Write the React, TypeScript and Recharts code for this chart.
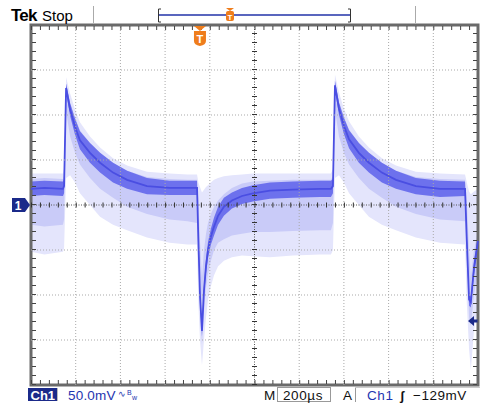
import React from 'react';
import {
  ComposedChart,
  Area,
  Line,
  XAxis,
  YAxis,
  ReferenceLine,
  ReferenceDot,
  ReferenceArea,
} from 'recharts';

const W = 480;
const H = 405;
const MARGIN = { top: 25, right: 2, bottom: 20, left: 31 };
const FONT = '"Liberation Sans", Arial, Helvetica, sans-serif';

// time (µs) at 200 µs/div, 10 divisions
const timeUs = [
  0, 60, 143, 148, 157, 175, 197, 219, 264, 309, 367, 430, 519, 620, 700, 743,
  749, 756, 765, 774, 783, 792, 805, 819, 837, 863, 899, 944, 993, 1069, 1172,
  1293, 1342, 1351, 1360, 1378, 1400, 1423, 1467, 1512, 1570, 1633, 1722, 1830,
  1942, 1950, 1960, 1968, 1982, 2000,
];
// dense trace core (mV) at 50 mV/div
const coreMv = [
  18, 19, 18, 21, 130, 106, 87, 72, 58, 47, 36, 28, 21, 19, 19, 19,
  -40, -100, -140, -95, -68, -50, -35, -24, -12, -2, 5, 10, 13, 16, 17,
  18, 18, 21, 133, 107, 88, 73, 58, 47, 36, 28, 21, 18,
  18, -40, -105, -108, -70, -40,
];
// half thickness of the dense band (mV)
const bandHalf = [
  8, 8, 8, 8, 5, 7, 9, 10, 11, 11, 11, 10, 9, 8, 8, 8,
  8, 7, 6, 7, 8, 9, 9, 10, 10, 10, 9, 9, 9, 9, 9,
  9, 9, 8, 5, 7, 9, 10, 11, 11, 11, 10, 9, 9,
  8, 8, 7, 6, 8, 8,
];
// medium persistence band (mV)
const midLo = [
  -22, -24, -22, -16, 104, 76, 58, 45, 30, 18, 8, -2, -10, -16, -18, -20,
  -65, -120, -155, -118, -92, -76, -62, -50, -42, -38, -34, -32, -30, -30, -29,
  -28, -28, -20, 106, 76, 58, 45, 30, 18, 8, -2, -10, -16,
  -18, -65, -125, -135, -100, -72,
];
const midHi = [
  29, 30, 29, 33, 135, 114, 97, 83, 69, 58, 47, 38, 31, 29, 28, 28,
  5, -40, -80, -50, -32, -20, -10, -2, 5, 12, 19, 24, 26, 27, 28,
  28, 28, 32, 138, 115, 98, 84, 69, 58, 47, 38, 31, 29,
  28, 5, -50, -80, -50, -28,
];
// faint outer persistence envelope (mV)
const outerLo = [
  -52, -55, -52, -48, 30, 33, 25, 13, 0, -13, -22, -28, -36, -42, -44, -44,
  -110, -150, -178, -150, -125, -105, -90, -78, -68, -62, -58, -56, -57, -58, -56,
  -55, -55, -50, 30, 33, 25, 13, 0, -13, -22, -28, -36, -42,
  -44, -110, -160, -183, -140, -110,
];
const outerHi = [
  35, 35, 35, 40, 142, 124, 106, 92, 76, 64, 52, 44, 37, 35, 34, 34,
  25, 20, 14, 17, 20, 22, 25, 28, 30, 32, 33, 34, 35, 35, 35,
  35, 35, 40, 145, 125, 107, 93, 76, 64, 52, 44, 37, 35,
  34, 25, 15, 12, 15, 18,
];

const rows = timeUs.map((t, i) => ({
  t,
  outer: [outerLo[i], outerHi[i]],
  mid: [midLo[i], midHi[i]],
  band: [coreMv[i] - bandHalf[i], coreMv[i] + bandHalf[i]],
  core: coreMv[i],
}));

const X_DOMAIN: [number, number] = [0, 2000];
const Y_DOMAIN: [number, number] = [-200, 200];
const xDivs = [200, 400, 600, 800, 1200, 1400, 1600, 1800];
const yDivs = [-150, -100, -50, 50, 100, 150];
const X_CENTER = 1000;
const Y_CENTER = 0;
const TRIGGER_TIME = 756;
const TRIGGER_LEVEL = -129;

const plotW = W - MARGIN.left - MARGIN.right;
const plotH = H - MARGIN.top - MARGIN.bottom;
const minorX = plotW / 50;
const minorY = plotH / 40;
const usPerPx = (X_DOMAIN[1] - X_DOMAIN[0]) / plotW;
const mvPerPx = (Y_DOMAIN[1] - Y_DOMAIN[0]) / plotH;

const NAVY = '#1b2a8a';
const ORANGE = '#ef7d1c';

const ChannelMarker = (p: any) => {
  const { cx, cy } = p;
  return (
    <g>
      <path d={`M${cx - 19},${cy - 7} h13 l5,7 l-5,7 h-13 z`} fill={NAVY} />
      <text x={cx - 13} y={cy + 4.5} fill="#fff" fontSize={12} fontWeight="bold" textAnchor="middle" fontFamily={FONT}>1</text>
    </g>
  );
};

const LevelMarker = (p: any) => {
  const { cx, cy } = p;
  return <path d={`M${cx - 10},${cy} l6,-5 v3.5 h3.5 v3 h-3.5 v3.5 z`} fill={NAVY} />;
};

const TriggerMarker = (p: any) => {
  const { cx, cy } = p;
  return (
    <g>
      <path d={`M${cx - 6},${cy + 1} h12 l-6,5 z`} fill={ORANGE} />
      <path d={`M${cx - 6},${cy + 6} h12 v10 q0,4 -6,5 q-6,-1 -6,-5 z`} fill={ORANGE} />
      <text x={cx} y={cy + 18} fill="#fff" fontSize={11} fontWeight="bold" textAnchor="middle" fontFamily={FONT}>T</text>
    </g>
  );
};

export default function App() {
  return (
    <div style={{ position: 'absolute', left: 0, top: 0, width: W, height: H, background: '#fff' }}>
      <ComposedChart width={W} height={H} data={rows} margin={MARGIN}>
        <XAxis dataKey="t" type="number" domain={X_DOMAIN} hide />
        <YAxis type="number" domain={Y_DOMAIN} hide />
        <Area dataKey="outer" type="linear" stroke="none" fill="#e4e5fc" fillOpacity={1} isAnimationActive={false} />
        <Area dataKey="mid" type="linear" stroke="none" fill="#c9cbf8" fillOpacity={1} isAnimationActive={false} />
        <Area dataKey="band" type="linear" stroke="none" fill="#6d71ed" fillOpacity={1} isAnimationActive={false} />
        <Line dataKey="core" type="linear" stroke="#4a4ee2" strokeWidth={1.8} dot={false} isAnimationActive={false} />

        {xDivs.map((x) => (
          <ReferenceLine key={'gx' + x} x={x} stroke="#a9a9a9" strokeWidth={1} strokeDasharray="1 2" />
        ))}
        {yDivs.map((y) => (
          <ReferenceLine key={'gy' + y} y={y} stroke="#a9a9a9" strokeWidth={1} strokeDasharray="1 2" />
        ))}
        <ReferenceLine x={X_CENTER} stroke="#555" strokeWidth={1} strokeDasharray="1 1.5" />
        <ReferenceLine y={Y_CENTER} stroke="#555" strokeWidth={1} strokeDasharray="1 1.5" />
        <ReferenceLine x={X_CENTER} stroke="#333" strokeWidth={5} strokeDasharray={`1 ${minorY - 1}`} />
        <ReferenceLine y={Y_CENTER} stroke="#333" strokeWidth={5} strokeDasharray={`1 ${minorX - 1}`} />

        <ReferenceLine segment={[{ x: X_DOMAIN[0], y: Y_DOMAIN[1] - 3 * mvPerPx }, { x: X_DOMAIN[1], y: Y_DOMAIN[1] - 3 * mvPerPx }]} stroke="#444" strokeWidth={4} strokeDasharray={`1 ${minorX - 1}`} />
        <ReferenceLine segment={[{ x: X_DOMAIN[0], y: Y_DOMAIN[0] + 3 * mvPerPx }, { x: X_DOMAIN[1], y: Y_DOMAIN[0] + 3 * mvPerPx }]} stroke="#444" strokeWidth={4} strokeDasharray={`1 ${minorX - 1}`} />
        <ReferenceLine segment={[{ x: X_DOMAIN[0] + 3 * usPerPx, y: Y_DOMAIN[0] }, { x: X_DOMAIN[0] + 3 * usPerPx, y: Y_DOMAIN[1] }]} stroke="#444" strokeWidth={4} strokeDasharray={`1 ${minorY - 1}`} />
        <ReferenceLine segment={[{ x: X_DOMAIN[1] - 3 * usPerPx, y: Y_DOMAIN[0] }, { x: X_DOMAIN[1] - 3 * usPerPx, y: Y_DOMAIN[1] }]} stroke="#444" strokeWidth={4} strokeDasharray={`1 ${minorY - 1}`} />

        <ReferenceArea x1={X_DOMAIN[0]} x2={X_DOMAIN[1]} y1={Y_DOMAIN[0]} y2={Y_DOMAIN[1]} fill="none" stroke="#6a6a6a" strokeWidth={3} ifOverflow="visible" />

        <ReferenceDot x={X_DOMAIN[0]} y={Y_CENTER} r={0} shape={ChannelMarker} ifOverflow="visible" />
        <ReferenceDot x={X_DOMAIN[1]} y={TRIGGER_LEVEL} r={0} shape={LevelMarker} ifOverflow="visible" />
        <ReferenceDot x={TRIGGER_TIME} y={Y_DOMAIN[1]} r={0} shape={TriggerMarker} ifOverflow="visible" />
      </ComposedChart>

      <svg width={W} height={H} style={{ position: 'absolute', left: 0, top: 0, pointerEvents: 'none' }} fontFamily={FONT}>
        <text x={11} y={21} fontSize={17} fontWeight="bold" fill="#000" letterSpacing={-0.8}>Tek</text>
        <text x={42} y={21} fontSize={15} fill="#000">Stop</text>
        <line x1={93.5} y1={6} x2={93.5} y2={23} stroke="#aaa" />
        <line x1={415.5} y1={6} x2={415.5} y2={23} stroke="#aaa" />
        <path d="M161,9 h-2.5 v13 h2.5" fill="none" stroke="#333" strokeWidth={1} />
        <path d="M348,9 h2.5 v13 h-2.5" fill="none" stroke="#333" strokeWidth={1} />
        <line x1={159} y1={15} x2={350} y2={15} stroke="#2233a8" strokeWidth={1.3} />
        <path d="M226,8 h8 l-4,3 z" fill={ORANGE} />
        <rect x={226} y={11} width={8} height={10} rx={2} fill={ORANGE} />
        <text x={230} y={19.5} fontSize={8} fontWeight="bold" fill="#fff" textAnchor="middle">T</text>

        <rect x={28} y={388} width={29} height={13} fill={NAVY} />
        <text x={30.5} y={399.5} fontSize={13} fontWeight="bold" fill="#fff">Ch1</text>
        <line x1={57.5} y1={388} x2={57.5} y2={401} stroke="#bbb" />
        <text x={68} y={399.5} fontSize={13.5} fill="#1e35b0" letterSpacing={0.2}>50.0mV</text>
        <text x={118} y={397} fontSize={9} fill="#1e35b0">∿</text>
        <text x={127} y={395} fontSize={7} fill="#1e35b0">B</text>
        <text x={132} y={400} fontSize={7} fill="#1e35b0">w</text>
        <text x={264} y={399.5} fontSize={13.5} fill="#111">M</text>
        <rect x={277.5} y={387.5} width={53} height={14} fill="none" stroke="#999" />
        <text x={283} y={399.5} fontSize={13.5} fill="#111" letterSpacing={0.6}>200µs</text>
        <text x={343} y={399.5} fontSize={13.5} fill="#111">A</text>
        <line x1={355.5} y1={387} x2={355.5} y2={402} stroke="#999" />
        <line x1={355} y1={387.5} x2={480} y2={387.5} stroke="#ccc" />
        <text x={367} y={399.5} fontSize={13.5} fill="#1e35b0" letterSpacing={0.6}>Ch1</text>
        <text x={400} y={400} fontSize={13} fontWeight="bold" fill="#111">ʃ</text>
        <text x={413} y={399.5} fontSize={13.5} fill="#111" letterSpacing={0.5}>−129mV</text>
      </svg>
    </div>
  );
}
